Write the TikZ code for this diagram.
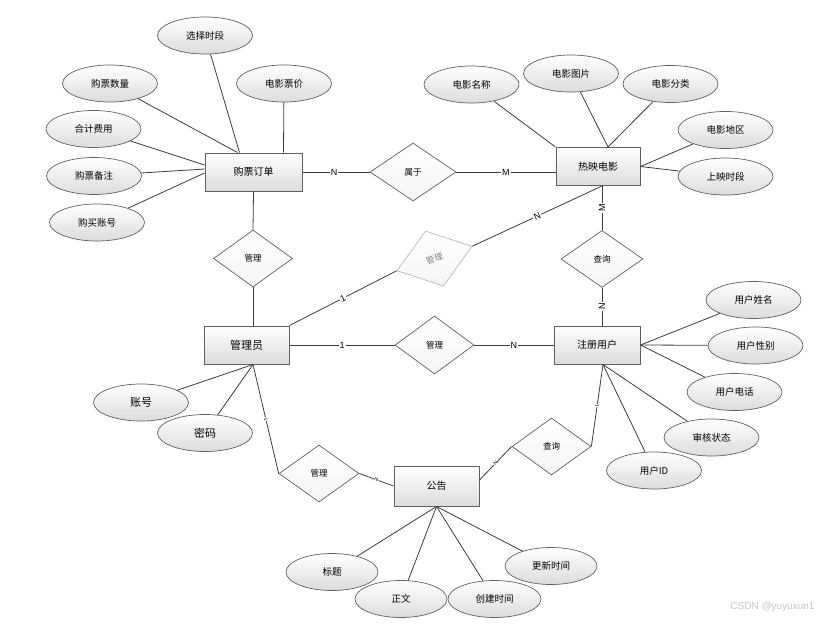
\documentclass[tikz,border=0pt]{standalone}
\usepackage{fontspec}
\setmainfont{Liberation Sans}
\newfontfamily\cjk{Noto Sans CJK SC}
\usetikzlibrary{shapes.geometric}
\definecolor{edgec}{HTML}{3C3C3C}
\definecolor{bordc}{HTML}{606060}
\definecolor{shadec}{HTML}{DCDCDC}
\tikzset{
 entity/.style={rectangle, draw=bordc, line width=1pt, top color=white, bottom color=shadec, minimum width=85pt, minimum height=38pt, inner sep=0pt, font=\cjk\fontsize{10}{12}\selectfont},
 attr/.style={ellipse, draw=bordc, line width=0.7pt, top color=white, bottom color=shadec, minimum width=95pt, minimum height=37pt, inner sep=0pt, font=\cjk\fontsize{9.5}{11}\selectfont},
 rel/.style={diamond, draw=bordc, line width=0.7pt, top color=white, bottom color=gray!8, minimum width=80pt, minimum height=57pt, inner sep=0pt, font=\cjk\fontsize{8.5}{10}\selectfont},
 link/.style={draw=edgec, line width=0.8pt},
 card/.style={fill=white, inner sep=1pt, font=\fontsize{9}{10}\selectfont},
 smallcard/.style={fill=white, inner sep=0.3pt, font=\fontsize{5}{6}\selectfont, sloped},
}
\begin{document}
\begin{tikzpicture}[x=1pt,y=-1pt]
\useasboundingbox (0,0) rectangle (829,626);
\fill[white] (0,0) rectangle (829,626);

% entities
\node[entity, minimum width=97pt] (o) at (253.5,172) {购票订单};
\node[entity, minimum width=84pt] (m) at (598,166.5) {热映电影};
\node[entity, font=\cjk\fontsize{11}{13}\selectfont] (g) at (246.5,345) {管理员};
\node[entity, minimum width=86pt] (u) at (597,345) {注册用户};
\node[entity, minimum height=40pt] (n) at (436.5,486) {公告};

% relationships
\node[rel, minimum width=86pt, minimum height=58pt] (r1) at (413,172) {属于};
\node[rel, minimum width=79pt] (r2) at (253,258.5) {管理};
\node[rel, draw=gray!55, text=gray, minimum width=79pt, minimum height=58pt, rotate=18] (r3) at (434.5,258.5) {管理};
\node[rel, minimum width=82pt] (r4) at (602,259) {查询};
\node[rel, minimum width=79pt, minimum height=58pt] (r5) at (434.5,345) {管理};
\node[rel] (r6) at (319,473.5) {管理};
\node[rel, minimum width=79pt] (r7) at (551.5,446.5) {查询};

% attributes
\node[attr] (a1) at (205,35.5) {选择时段};
\node[attr] (a2) at (110,83.5) {购票数量};
\node[attr] (a3) at (284,83.5) {电影票价};
\node[attr] (a4) at (93.5,129) {合计费用};
\node[attr] (a5) at (94,176) {购票备注};
\node[attr] (a6) at (97,222.5) {购买账号};
\node[attr] (b1) at (471.5,84.5) {电影名称};
\node[attr] (b2) at (571,73.5) {电影图片};
\node[attr] (b3) at (670.5,84) {电影分类};
\node[attr] (b4) at (725.5,130) {电影地区};
\node[attr] (b5) at (725.5,176.5) {上映时段};
\node[attr] (c1) at (753.5,300) {用户姓名};
\node[attr] (c2) at (755.5,345.5) {用户性别};
\node[attr] (c3) at (734.5,392) {用户电话};
\node[attr] (c4) at (711.5,437.5) {审核状态};
\node[attr] (c5) at (654,470.5) {用户ID};
\node[attr, font=\cjk\fontsize{11}{13}\selectfont] (d1) at (141,402.5) {账号};
\node[attr, font=\cjk\fontsize{11}{13}\selectfont] (d2) at (205,433) {密码};
\node[attr, minimum width=92pt] (e1) at (332,572) {标题};
\node[attr, minimum width=92pt] (e2) at (401,599) {正文};
\node[attr, minimum width=93pt] (e3) at (494.5,599) {创建时间};
\node[attr, minimum width=92pt] (e4) at (551,566) {更新时间};

% helper points
\coordinate (ms) at ([xshift=4pt]m.south);
\coordinate (us) at ([xshift=6pt]u.south);
\coordinate (gs) at ([xshift=6.5pt]g.south);

% connectors: 购票订单
\draw[link] (a1) -- ([xshift=-14pt]o.north);
\draw[link] (a2) -- ([xshift=-16pt]o.north);
\draw[link] (a3) -- ([xshift=30pt]o.north);
\draw[link] (a4) -- ([yshift=7pt]o.west);
\draw[link] (a5) -- ([yshift=3pt]o.west);
\draw[link] (a6) -- ([yshift=-1pt]o.west);
\draw[link] (o.east) -- node[card, pos=0.47]{N} (r1.west);
\draw[link] (r1.east) -- node[card]{M} (r1.east -| m.west);
\draw[link] (o.south) -- (r2.north);
\draw[link] (r2.south) -- (r2.south |- g.north);

% 热映电影
\draw[link] (b1) -- (m.north west);
\draw[link] (b2) -- ([xshift=10pt]m.north);
\draw[link] (b3) -- ([xshift=10pt]m.north);
\draw[link] (b4) -- (m.east);
\draw[link] (b5) -- (m.east);
\draw[link] (ms) -- node[card, rotate=90]{M} (r4.north);
\draw[link] (r4.south) -- node[card, rotate=90]{N} (r4.south |- u.north);
\draw[link] (r3.east) -- node[card, sloped]{N} (ms);
\draw[link] (g.north east) -- node[card, sloped]{1} (r3.west);

% 管理员
\draw[link] (g.east) -- node[card]{1} (r5.west);
\draw[link] (r5.east) -- node[card]{N} (u.west);
\draw[link] (d1) -- (gs);
\draw[link] (d2) -- (gs);
\draw[link] (gs) -- node[smallcard]{1} (r6.west);
\draw[link] (r6.east) -- node[smallcard]{N} (n.west);

% 注册用户
\draw[link] (u.east) -- (c1);
\draw[link] (u.east) -- (c2);
\draw[link] (u.east) -- (c3);
\draw[link] (us) -- (c4);
\draw[link] (us) -- (c5);
\draw[link] (r7.east) -- node[smallcard]{1} (us);
\draw[link] (r7.west) -- node[smallcard]{N} ([yshift=6pt]n.east);

% 公告
\draw[link] (n.south) -- (e1);
\draw[link] (n.south) -- (e2);
\draw[link] (n.south) -- (e3);
\draw[link] (n.south) -- (e4);

\node[text=gray!45, font=\fontsize{10}{12}\selectfont, anchor=east] (wm) at (818,607) {CSDN @yuyuxun1};
\end{tikzpicture}
\end{document}
